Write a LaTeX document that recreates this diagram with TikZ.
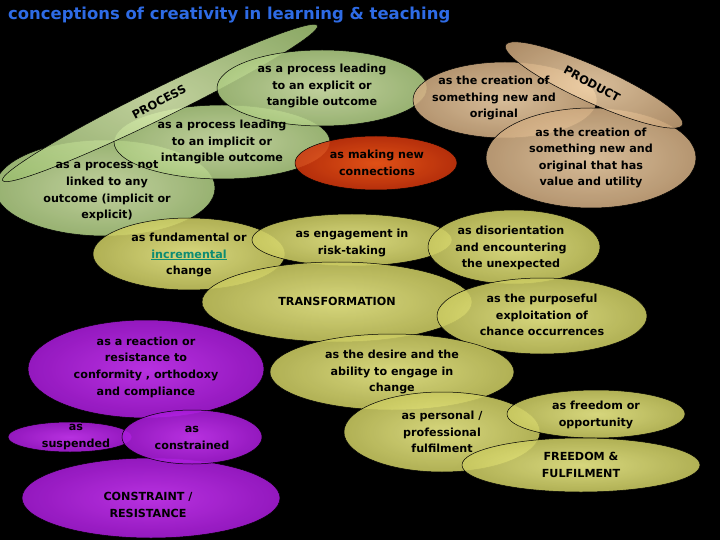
\documentclass[tikz,border=0pt]{standalone}
\usepackage{fontspec}
\setmainfont{DejaVu Sans}
\usetikzlibrary{shapes.geometric}
\pgfdeclareradialshading{shgreen}{\pgfpoint{0bp}{0bp}}{rgb(0bp)=(0.86,0.93,0.70); rgb(50bp)=(0.50,0.66,0.32)}
\pgfdeclareradialshading{shyellow}{\pgfpoint{0bp}{0bp}}{rgb(0bp)=(0.96,0.96,0.56); rgb(50bp)=(0.62,0.62,0.20)}
\pgfdeclareradialshading{shtan}{\pgfpoint{0bp}{0bp}}{rgb(0bp)=(0.96,0.84,0.68); rgb(50bp)=(0.66,0.50,0.33)}
\pgfdeclareradialshading{shpurple}{\pgfpoint{0bp}{0bp}}{rgb(0bp)=(0.82,0.22,1.00); rgb(50bp)=(0.50,0.00,0.70)}
\pgfdeclareradialshading{shred}{\pgfpoint{0bp}{0bp}}{rgb(0bp)=(1.00,0.36,0.10); rgb(50bp)=(0.62,0.06,0.00)}
\definecolor{titleblue}{rgb}{0.18,0.42,0.90}
\definecolor{linkteal}{rgb}{0.05,0.55,0.45}
\tikzset{
  blob/.style={ellipse, draw=black, line width=0.5pt, inner sep=0pt, fill opacity=0.88, shade, shading=#1},
  lbl/.style={align=center, inner sep=0pt, text=black, font=\bfseries\fontsize{11.2}{16.7}\selectfont},
  tiltlbl/.style={inner sep=0pt, text=black, font=\bfseries\fontsize{11.5}{13}\selectfont},
}
\begin{document}
\begin{tikzpicture}[x=1bp,y=-1bp]
\fill[black] (0,0) rectangle (720,540);
\useasboundingbox (0,0) rectangle (720,540);

% title
\node[anchor=base west, inner sep=0pt, text=titleblue, font=\bfseries\fontsize{16.5}{19}\selectfont] (title) at (8,20) {conceptions of creativity in learning \& teaching};

% PROCESS family (green)
\node[blob=shgreen, minimum width=220bp, minimum height=96bp] (notlinked) at (105,188) {};
\node[blob=shgreen, minimum width=216bp, minimum height=74bp] (implicit) at (222,142) {};
\node[blob=shgreen, minimum width=351bp, minimum height=30bp, rotate=26.2] (process) at (160,103) {};
\node[blob=shgreen, minimum width=210bp, minimum height=76bp] (explicit) at (322,88) {};

% connections (red)
\node[blob=shred, minimum width=162bp, minimum height=54bp] (connect) at (376,163) {};

% PRODUCT family (tan)
\node[blob=shtan, minimum width=184bp, minimum height=76bp] (creation) at (505,100) {};
\node[blob=shtan, minimum width=210bp, minimum height=100bp] (value) at (591,158) {};
\node[blob=shtan, minimum width=194bp, minimum height=36bp, rotate=-24.3] (product) at (594,85) {};

% TRANSFORMATION family (yellow)
\node[blob=shyellow, minimum width=192bp, minimum height=72bp] (fundamental) at (189,254) {};
\node[blob=shyellow, minimum width=200bp, minimum height=52bp] (engage) at (352,240) {};
\node[blob=shyellow, minimum width=172bp, minimum height=74bp] (disorient) at (514,247) {};
\node[blob=shyellow, minimum width=270bp, minimum height=80bp] (transform) at (337,302) {};
\node[blob=shyellow, minimum width=210bp, minimum height=76bp] (purpose) at (542,316) {};
\node[blob=shyellow, minimum width=244bp, minimum height=76bp] (desire) at (392,372) {};
\node[blob=shyellow, minimum width=196bp, minimum height=80bp] (personal) at (442,432) {};
\node[blob=shyellow, minimum width=178bp, minimum height=48bp] (freeopp) at (596,414) {};
\node[blob=shyellow, minimum width=238bp, minimum height=54bp] (freefulfil) at (581,465) {};

% CONSTRAINT family (purple)
\node[blob=shpurple, minimum width=236bp, minimum height=98bp] (reaction) at (146,369) {};
\node[blob=shpurple, minimum width=258bp, minimum height=80bp] (constraint) at (151,498) {};
\node[blob=shpurple, minimum width=124bp, minimum height=30bp] (suspended) at (70,437) {};
\node[blob=shpurple, minimum width=140bp, minimum height=54bp] (constrained) at (192,437) {};

% labels
\node[lbl] (t-explicit) at (322,86) {as a process leading\\to an explicit or\\tangible outcome};
\node[lbl] (t-implicit) at (222,142) {as a process leading\\to an implicit or\\intangible outcome};
\node[lbl] (t-notlinked) at (107,191) {as a process not\\linked to any\\outcome (implicit or\\explicit)};
\node[tiltlbl, rotate=28] (t-process) at (159,102) {PROCESS};
\node[lbl] (t-connect) at (377,163) {as making new\\connections};
\node[lbl] (t-creation) at (494,98) {as the creation of\\something new and\\original};
\node[lbl] (t-value) at (591,158) {as the creation of\\something new and\\original that has\\value and utility};
\node[tiltlbl, rotate=-28.5] (t-product) at (592,84) {PRODUCT};
\node[lbl] (t-fundamental) at (189,255) {as fundamental or\\\textcolor{linkteal}{\underline{incremental}}\\change};
\node[lbl] (t-engage) at (352,243) {as engagement in\\risk-taking};
\node[lbl] (t-disorient) at (511,248) {as disorientation\\and encountering\\the unexpected};
\node[lbl] (t-transform) at (337,301) {TRANSFORMATION};
\node[lbl] (t-purpose) at (542,315) {as the purposeful\\exploitation of\\chance occurrences};
\node[lbl] (t-desire) at (392,372) {as the desire and the\\ability to engage in\\change};
\node[lbl] (t-personal) at (442,432) {as personal /\\professional\\fulfilment};
\node[lbl] (t-freeopp) at (596,415) {as freedom or\\opportunity};
\node[lbl] (t-freefulfil) at (581,465) {FREEDOM \&\\FULFILMENT};
\node[lbl] (t-reaction) at (146,367) {as a reaction or\\resistance to\\conformity , orthodoxy\\and compliance};
\node[lbl] (t-suspended) at (76,437) {as\\suspended};
\node[lbl] (t-constrained) at (192,438) {as\\constrained};
\node[lbl] (t-constraint) at (148,505) {CONSTRAINT /\\RESISTANCE};
\end{tikzpicture}
\end{document}
